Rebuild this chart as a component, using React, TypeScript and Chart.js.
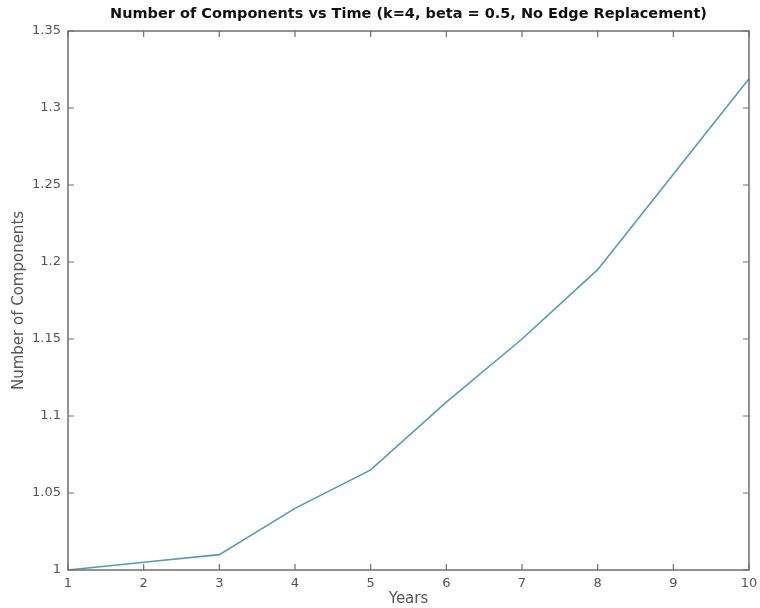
import React, { useEffect, useRef } from "react";
import { Chart, registerables } from "chart.js";

Chart.register(...registerables);

const years = [1, 2, 3, 4, 5, 6, 7, 8, 9, 10];
const components = [1.0, 1.005, 1.01, 1.04, 1.065, 1.109, 1.15, 1.195, 1.257, 1.319];
const yTicks = [1, 1.05, 1.1, 1.15, 1.2, 1.25, 1.3, 1.35];
const xTicks = [1, 2, 3, 4, 5, 6, 7, 8, 9, 10];
const titleText = "Number of Components vs Time (k=4, beta = 0.5, No Edge Replacement)";

const AXIS_COLOR = "#6e6e6e";
const TEXT_COLOR = "#555555";
const FONT = "'DejaVu Sans', Verdana, sans-serif";

const framePlugin = {
  id: "frameTicks",
  afterDraw(chart: any) {
    const { ctx, chartArea } = chart;
    const { left, right, top, bottom } = chartArea;
    const xs = chart.scales.x;
    const ys = chart.scales.y;
    ctx.save();
    ctx.strokeStyle = AXIS_COLOR;
    ctx.lineWidth = 1.5;
    ctx.strokeRect(left, top, right - left, bottom - top);
    ctx.lineWidth = 1.2;
    const tl = 6;
    ctx.beginPath();
    xTicks.forEach((v) => {
      const px = xs.getPixelForValue(v);
      ctx.moveTo(px, bottom);
      ctx.lineTo(px, bottom - tl);
      ctx.moveTo(px, top);
      ctx.lineTo(px, top + tl);
    });
    yTicks.forEach((v) => {
      const py = ys.getPixelForValue(v);
      ctx.moveTo(left, py);
      ctx.lineTo(left + tl, py);
      ctx.moveTo(right, py);
      ctx.lineTo(right - tl, py);
    });
    ctx.stroke();
    ctx.fillStyle = "#111";
    ctx.font = "bold 14.5px " + FONT;
    ctx.textAlign = "center";
    ctx.textBaseline = "middle";
    ctx.fillText(titleText, (left + right) / 2, 14);
    ctx.restore();
  },
};

export default function App() {
  const ref = useRef<HTMLCanvasElement | null>(null);
  useEffect(() => {
    document.body.style.margin = "0";
    const chart = new Chart(ref.current!, {
      type: "line",
      data: {
        datasets: [
          {
            data: years.map((x, i) => ({ x, y: components[i] })),
            borderColor: "#4f9dba",
            borderWidth: 1.6,
            pointRadius: 0,
            tension: 0,
            fill: false,
          },
        ],
      },
      options: {
        animation: false,
        responsive: true,
        maintainAspectRatio: false,
        layout: { padding: { top: 31, right: 11, left: 0, bottom: 0 } },
        plugins: {
          legend: { display: false },
          tooltip: { enabled: false },
          title: { display: false },
        },
        scales: {
          x: {
            type: "linear",
            min: 1,
            max: 10,
            afterFit: (s: any) => {
              s.height = 38;
              s.paddingLeft = 0;
              s.paddingRight = 0;
            },
            afterBuildTicks: (s: any) => {
              s.ticks = xTicks.map((v) => ({ value: v }));
            },
            grid: { display: false, drawTicks: false },
            border: { display: false },
            ticks: {
              padding: 6,
              color: TEXT_COLOR,
              font: { family: FONT, size: 13 },
              maxRotation: 0,
              callback: (v: any) => String(v),
            },
            title: {
              display: true,
              text: "Years",
              color: TEXT_COLOR,
              font: { family: FONT, size: 15 },
              padding: { top: 0, bottom: 0 },
            },
          },
          y: {
            type: "linear",
            min: 1,
            max: 1.35,
            afterFit: (s: any) => {
              s.width = 68;
              s.paddingTop = 0;
              s.paddingBottom = 0;
            },
            afterBuildTicks: (s: any) => {
              s.ticks = yTicks.map((v) => ({ value: v }));
            },
            grid: { display: false, drawTicks: false },
            border: { display: false },
            ticks: {
              padding: 7,
              color: TEXT_COLOR,
              font: { family: FONT, size: 13 },
              callback: (v: any) => String(Number(Number(v).toFixed(2))),
            },
            title: {
              display: true,
              text: "Number of Components",
              color: TEXT_COLOR,
              font: { family: FONT, size: 15 },
              padding: { top: 10, bottom: 0 },
            },
          },
        },
      },
      plugins: [framePlugin],
    } as any);
    return () => chart.destroy();
  }, []);
  return (
    <div style={{ position: "absolute", left: 0, top: 0, width: 760, height: 608, background: "#fff" }}>
      <canvas ref={ref} />
    </div>
  );
}
